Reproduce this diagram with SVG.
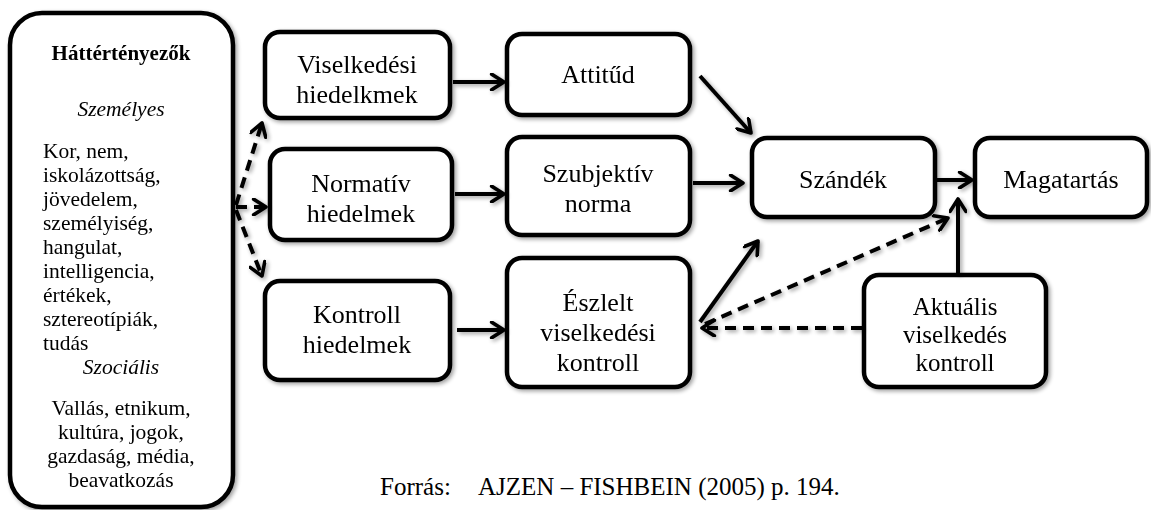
<svg xmlns="http://www.w3.org/2000/svg" width="1151" height="510" viewBox="0 0 1151 510">
  <defs>
    <filter id="shadow" x="-10%" y="-10%" width="130%" height="130%">
      <feGaussianBlur in="SourceAlpha" stdDeviation="2.2"/>
      <feOffset dx="2" dy="2" result="b"/>
      <feComponentTransfer><feFuncA type="linear" slope="0.38"/></feComponentTransfer>
      <feMerge><feMergeNode/><feMergeNode in="SourceGraphic"/></feMerge>
    </filter>
    <marker id="head" viewBox="0 0 16 16" refX="13" refY="8" markerWidth="18" markerHeight="18" markerUnits="userSpaceOnUse" orient="auto">
      <path d="M2,1 L13,8 L2,15" fill="none" stroke="#000" stroke-width="3.2" stroke-linecap="round" stroke-linejoin="round"/>
    </marker>
  </defs>
  <style>
    .box { fill: #fff; stroke: #000; stroke-width: 4.5; }
    .lbl { font-family: "Liberation Serif", "Times New Roman", serif; font-size: 26px; fill: #000; text-anchor: middle; }
    .sm { font-size: 25px; }
    .side { font-family: "Liberation Serif", "Times New Roman", serif; font-size: 21.5px; fill: #000; }
    .mid { text-anchor: middle; }
    .it { font-style: italic; }
    .head { font-weight: bold; font-size: 21px; }
    .src { font-family: "Liberation Serif", "Times New Roman", serif; font-size: 25px; fill: #000; }
    .solid { fill: none; stroke: #000; stroke-width: 4; marker-end: url(#head); }
    .dash { fill: none; stroke: #000; stroke-width: 4; stroke-dasharray: 11 7; marker-end: url(#head); }
  </style>

  <!-- background factors -->
  <g id="hatter" filter="url(#shadow)">
    <rect class="box" x="10" y="13" width="223" height="494" rx="32"/>
    <text class="side mid head" x="121" y="60">Háttértényezők</text>
    <text class="side mid it" x="121" y="116">Személyes</text>
    <text class="side" x="43" y="158">Kor, nem,</text>
    <text class="side" x="43" y="182">iskolázottság,</text>
    <text class="side" x="43" y="206">jövedelem,</text>
    <text class="side" x="43" y="230">személyiség,</text>
    <text class="side" x="43" y="254">hangulat,</text>
    <text class="side" x="43" y="278">intelligencia,</text>
    <text class="side" x="43" y="302">értékek,</text>
    <text class="side" x="43" y="326">sztereotípiák,</text>
    <text class="side" x="43" y="350">tudás</text>
    <text class="side mid it" x="121" y="374">Szociális</text>
    <text class="side mid" x="121" y="415">Vallás, etnikum,</text>
    <text class="side mid" x="121" y="439">kultúra, jogok,</text>
    <text class="side mid" x="121" y="463">gazdaság, média,</text>
    <text class="side mid" x="121" y="487">beavatkozás</text>
  </g>

  <g id="viselkedesi-hiedelmek" filter="url(#shadow)">
    <rect class="box" x="265" y="32" width="185" height="86" rx="15"/>
    <text class="lbl" x="357" y="73">Viselkedési</text>
    <text class="lbl" x="357" y="103">hiedelkmek</text>
  </g>

  <g id="normativ-hiedelmek" filter="url(#shadow)">
    <rect class="box" x="270" y="149" width="182" height="91" rx="15"/>
    <text class="lbl" x="361" y="192">Normatív</text>
    <text class="lbl" x="361" y="222">hiedelmek</text>
  </g>

  <g id="kontroll-hiedelmek" filter="url(#shadow)">
    <rect class="box" x="265" y="281" width="185" height="99" rx="15"/>
    <text class="lbl" x="357" y="323">Kontroll</text>
    <text class="lbl" x="357" y="353">hiedelmek</text>
  </g>

  <g id="attitud" filter="url(#shadow)">
    <rect class="box" x="507" y="34" width="183" height="81" rx="15"/>
    <text class="lbl" x="598" y="83">Attitűd</text>
  </g>

  <g id="szubjektiv-norma" filter="url(#shadow)">
    <rect class="box" x="507" y="137" width="183" height="98" rx="15"/>
    <text class="lbl" x="598" y="182">Szubjektív</text>
    <text class="lbl" x="598" y="212">norma</text>
  </g>

  <g id="eszlelt-kontroll" filter="url(#shadow)">
    <rect class="box" x="507" y="258" width="183" height="129" rx="15"/>
    <text class="lbl" x="598" y="311">Észlelt</text>
    <text class="lbl" x="598" y="341">viselkedési</text>
    <text class="lbl" x="598" y="371">kontroll</text>
  </g>

  <g id="szandek" filter="url(#shadow)">
    <rect class="box" x="752" y="138" width="183" height="79" rx="15"/>
    <text class="lbl" x="843" y="188">Szándék</text>
  </g>

  <g id="magatartas" filter="url(#shadow)">
    <rect class="box" x="975" y="138" width="172" height="79" rx="15"/>
    <text class="lbl" x="1061" y="188">Magatartás</text>
  </g>

  <g id="aktualis-kontroll" filter="url(#shadow)">
    <rect class="box" x="864" y="275" width="182" height="112" rx="15"/>
    <text class="lbl sm" x="955" y="315">Aktuális</text>
    <text class="lbl sm" x="955" y="343">viselkedés</text>
    <text class="lbl sm" x="955" y="371">kontroll</text>
  </g>

  <!-- connectors -->
  <g id="connectors" filter="url(#shadow)">
    <path class="dash" d="M236,205 L262,123"/>
    <path class="dash" d="M236,207 L266,207"/>
    <path class="dash" d="M236,210 L262,276"/>
    <path class="solid" d="M453,82 L504,82"/>
    <path class="solid" d="M455,194 L504,194"/>
    <path class="solid" d="M457,330 L504,330"/>
    <path class="solid" d="M700,76 L751,133"/>
    <path class="solid" d="M693,183 L743,183"/>
    <path class="solid" d="M700,322 L758,241"/>
    <path class="solid" d="M937,180 L972,180"/>
    <path class="solid" d="M958,274 L958,199"/>
    <path class="dash" d="M862,328 L702,328"/>
    <path class="dash" d="M705,324 L948,218"/>
  </g>

  <text class="src" x="380" y="495">Forrás:<tspan x="478">AJZEN – FISHBEIN (2005) p. 194.</tspan></text>
</svg>
